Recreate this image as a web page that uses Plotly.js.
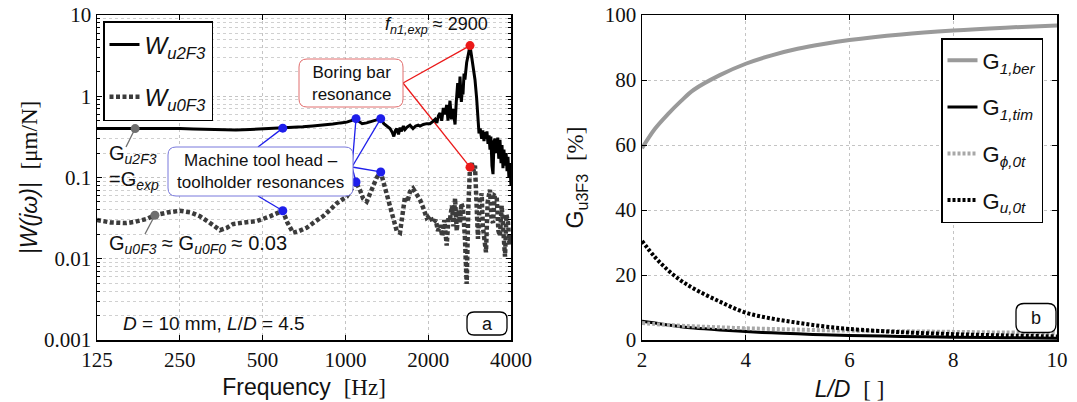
<!DOCTYPE html>
<html>
<head>
<meta charset="utf-8">
<script src="https://cdn.plot.ly/plotly-3.0.1.min.js"></script>
<style>html,body{margin:0;padding:0;background:#fff;}#chart{width:1077px;height:402px;}</style>
</head>
<body>
<div id="chart"></div>
<script>
// ---------------- DATA ----------------
// Panel a: receptances vs frequency
const freq_u2F3 = [125,140,160,172,190,215,250,280,320,360,400,450,500,550,592,640,700,760,830,900,960,1011,1050,1093,1120,1150,1195,1240,1290,1344,1380,1420,1453,1480,1500,1520,1537,1560,1580,1600,1625,1647,1680,1717,1761,1800,1840,1867,1920,1975,2030,2082,2120,2150,2180,2208,2240,2270,2300,2335,2360,2400,2430,2460,2504,2530,2560,2590,2610,2640,2660,2676,2700,2720,2760,2800,2838,2880,2920,2959,3000,3034,3060,3090,3129,3160,3190,3220,3244,3270,3300,3330,3354,3380,3410,3441,3470,3500,3549,3580,3610,3648,3680,3710,3740,3770,3805,3840,3870,3900,3930,3960,4000];
const W_u2F3 = [0.40,0.40,0.40,0.40,0.405,0.405,0.40,0.395,0.39,0.385,0.385,0.39,0.395,0.40,0.405,0.41,0.42,0.43,0.44,0.455,0.47,0.48,0.50,0.53,0.49,0.46,0.47,0.49,0.51,0.53,0.46,0.42,0.40,0.36,0.32,0.38,0.40,0.34,0.41,0.37,0.43,0.39,0.42,0.44,0.40,0.43,0.44,0.43,0.45,0.46,0.46,0.49,0.52,0.47,0.58,0.62,0.50,0.72,0.60,0.78,0.50,0.88,0.52,0.70,0.45,0.85,1.45,0.95,1.75,0.85,1.2,1.05,1.9,1.6,2.6,3.3,4.2,3.0,2.2,1.6,0.95,0.55,0.35,0.40,0.30,0.38,0.28,0.36,0.30,0.37,0.26,0.33,0.22,0.32,0.14,0.11,0.28,0.30,0.20,0.31,0.17,0.29,0.15,0.25,0.13,0.22,0.14,0.20,0.12,0.18,0.10,0.15,0.08];

const freq_u0F3 = [125,140,160,172,190,203,225,250,275,296,320,350,370,390,430,476,532,592,615,645,680,723,780,829,880,930,1011,1050,1093,1130,1160,1195,1250,1300,1344,1380,1420,1453,1490,1537,1579,1610,1647,1680,1717,1761,1800,1867,1920,1975,2030,2082,2130,2170,2208,2250,2290,2335,2370,2400,2440,2470,2504,2540,2580,2610,2640,2676,2720,2760,2800,2838,2880,2920,2959,3000,3034,3080,3129,3160,3190,3244,3290,3354,3400,3441,3490,3549,3600,3648,3700,3750,3805,3850,3900,3950,4000];
const W_u0F3 = [0.030,0.028,0.0275,0.0285,0.031,0.0343,0.037,0.039,0.037,0.0333,0.028,0.0225,0.024,0.0267,0.028,0.029,0.0333,0.039,0.028,0.0209,0.022,0.0241,0.029,0.0333,0.040,0.0482,0.058,0.070,0.088,0.070,0.055,0.0506,0.075,0.10,0.117,0.085,0.055,0.044,0.030,0.0219,0.0209,0.035,0.058,0.050,0.0668,0.0732,0.065,0.0535,0.042,0.0318,0.034,0.0277,0.030,0.022,0.026,0.019,0.030,0.0145,0.032,0.0306,0.045,0.025,0.0555,0.022,0.040,0.0277,0.048,0.042,0.018,0.0049,0.045,0.134,0.15,0.12,0.14,0.04,0.0176,0.05,0.0637,0.025,0.017,0.012,0.05,0.0706,0.03,0.0277,0.06,0.058,0.022,0.0191,0.045,0.025,0.0106,0.035,0.028,0.015,0.02];

// highlighted points (frequencies picked on the curves)
const staticFreqU2 = 172;             // G_u2F3 read-off point
const staticFreqU0 = 203;             // G_u0F3 read-off point
const headFreqs = [592, 1093, 1344];  // machine tool head – toolholder resonances
const barFreq = 2838;                 // boring bar resonance

const freqTicks = [125,250,500,1000,2000,4000];

// Panel b: contributions vs L/D
const LD     = [2,2.25,2.5,2.75,3,3.5,4,4.5,5,5.5,6,7,8,9,10];
const G1ber  = [59,65,69.5,73.5,77,81.5,85,87.6,89.6,91.1,92.3,94.0,95.2,96.1,96.8];
const G1tim  = [5.8,5.2,4.6,4.1,3.7,3.1,2.6,2.2,1.9,1.6,1.4,1.1,0.85,0.7,0.55];
const Gphi0t = [5.2,4.9,4.6,4.4,4.2,3.9,3.6,3.4,3.2,3.0,2.9,2.7,2.5,2.3,2.2];
const Gu0t   = [30.5,25.5,21.5,18.3,15.8,11.8,8.4,6.6,5.3,4.2,3.4,2.4,1.8,1.4,1.1];

// ---------------- helpers ----------------
const PL = {l:97, r:1057, t:15, b:340};
const PW = PL.r - PL.l;
const px2x = p => (p - PL.l) / PW;
const py2y = p => (PL.b - p) / (PL.b - PL.t);
const LX0 = Math.log10(125), LX1 = Math.log10(4000), LXW = 414;
const fAt = p => Math.pow(10, LX0 + (p - PL.l) / LXW * (LX1 - LX0));
const vAt = p => Math.pow(10, 1 - (p - PL.t) * 4 / (PL.b - PL.t));
const valAt = (fs, vs, f) => vs[fs.indexOf(f)];

const SANS = 'Liberation Sans';
const SERIF = 'Liberation Serif';
const BLUE = 'rgb(30,30,235)', RED = 'rgb(235,25,25)', GREY = 'rgb(110,110,110)';

function rbox(cx, cy, w, h, r, color, lw) {
  const a = w/2, b = h/2;
  const path = `M ${-a+r},${-b} L ${a-r},${-b} Q ${a},${-b} ${a},${-b+r} L ${a},${b-r} Q ${a},${b} ${a-r},${b} L ${-a+r},${b} Q ${-a},${b} ${-a},${b-r} L ${-a},${-b+r} Q ${-a},${-b} ${-a+r},${-b} Z`;
  return {type:'path', xref:'paper', yref:'paper', xsizemode:'pixel', ysizemode:'pixel',
          xanchor:px2x(cx), yanchor:py2y(cy), path, line:{color, width:lw}, fillcolor:'#fff', layer:'above'};
}
function leader(p0x, p0y, f, v, color) {
  return {type:'line', xref:'x', yref:'y', x0:fAt(p0x), y0:vAt(p0y), x1:f, y1:v,
          line:{color, width:1.3}, layer:'between'};
}
function txt(cx, cy, text, size, extra) {
  return Object.assign({xref:'paper', yref:'paper', x:px2x(cx), y:py2y(cy), text, showarrow:false,
          xanchor:'center', yanchor:'middle', font:{family:SANS, size, color:'#111'}}, extra || {});
}
const serifSpan = s => '<span style="font-family:Liberation Serif">' + s + '</span>';

// ---------------- traces ----------------
const headU2 = headFreqs.map(f => valAt(freq_u2F3, W_u2F3, f));
const headU0 = headFreqs.map(f => valAt(freq_u0F3, W_u0F3, f));
const barU2 = valAt(freq_u2F3, W_u2F3, barFreq);
const barU0 = valAt(freq_u0F3, W_u0F3, barFreq);
const statU2 = valAt(freq_u2F3, W_u2F3, staticFreqU2);
const statU0 = valAt(freq_u0F3, W_u0F3, staticFreqU0);

const traces = [
  {x:freq_u2F3, y:W_u2F3, mode:'lines', name:'<i>W</i><sub><i>u2F3</i></sub>', legend:'legend', legendgroup:'a1',
   line:{color:'#000', width:3}, xaxis:'x', yaxis:'y'},
  {x:freq_u0F3, y:W_u0F3, mode:'lines', name:'<i>W</i><sub><i>u0F3</i></sub>', legend:'legend', legendgroup:'a2',
   line:{color:'#3c3c3c', width:4.5, dash:'4px,2.5px'}, xaxis:'x', yaxis:'y'},
  {x:[staticFreqU2, staticFreqU0], y:[statU2, statU0], mode:'markers', showlegend:false,
   marker:{color:GREY, size:9}, xaxis:'x', yaxis:'y'},
  {x:headFreqs.concat(headFreqs), y:headU2.concat(headU0), mode:'markers', showlegend:false,
   marker:{color:BLUE, size:9}, xaxis:'x', yaxis:'y'},
  {x:[barFreq, barFreq], y:[barU2, barU0], mode:'markers', showlegend:false,
   marker:{color:RED, size:9}, xaxis:'x', yaxis:'y'},

  {x:LD, y:G1ber, mode:'lines', name:'G<sub><i>1,ber</i></sub>', legend:'legend2', legendgroup:'b1',
   line:{color:'#9a9a9a', width:4, shape:'spline'}, xaxis:'x2', yaxis:'y2'},
  {x:LD, y:G1tim, mode:'lines', name:'G<sub><i>1,tim</i></sub>', legend:'legend2', legendgroup:'b2',
   line:{color:'#000', width:3, shape:'spline'}, xaxis:'x2', yaxis:'y2'},
  {x:LD, y:Gphi0t, mode:'lines', name:'G<sub><i>ϕ,0t</i></sub>', legend:'legend2', legendgroup:'b3',
   line:{color:'#a8a8a8', width:4, dash:'3px,2px', shape:'spline'}, xaxis:'x2', yaxis:'y2'},
  {x:LD, y:Gu0t, mode:'lines', name:'G<sub><i>u,0t</i></sub>', legend:'legend2', legendgroup:'b4',
   line:{color:'#000', width:4, dash:'3px,2px', shape:'spline'}, xaxis:'x2', yaxis:'y2'}
];

// ---------------- layout ----------------
const gridCol = '#c4c4c4';
function axisBase() {
  return {showline:true, linecolor:'#000', linewidth:1.5, mirror:'ticks', ticks:'inside', ticklen:5,
    tickcolor:'#000', showgrid:true, gridcolor:gridCol, griddash:'dot', gridwidth:1, zeroline:false,
    tickfont:{family:SERIF, size:21, color:'#111'}};
}
const ldTicks = [2,4,6,8,10];
const pctTicks = [0,20,40,60,80,100];

const layout = {
  width:1077, height:402, paper_bgcolor:'#fff', plot_bgcolor:'#fff',
  font:{family:SANS, color:'#111'},
  margin:{l:PL.l, r:1077-PL.r, t:PL.t, b:402-PL.b},
  showlegend:true,
  xaxis: Object.assign(axisBase(), {type:'log', domain:[0, LXW/PW], range:[LX0, LX1], anchor:'y',
    tickmode:'array', tickvals:freqTicks, ticktext:freqTicks.map(v => serifSpan(String(v))),
    title:{text:'Frequency\u00A0\u00A0' + serifSpan('[Hz]'), font:{family:SANS, size:23, color:'#111'}, standoff:8}}),
  yaxis: Object.assign(axisBase(), {type:'log', range:[-3, 1], anchor:'x', tickmode:'linear', tick0:0, dtick:1,
    minor:{dtick:'D1', ticks:'inside', ticklen:3, tickcolor:'#000', showgrid:true, gridcolor:'#d0d0d0', griddash:'dot', gridwidth:1},
    title:{text:'<i>|W(jω)|</i>\u00A0\u00A0' + serifSpan('[μm/N]'), font:{family:SANS, size:23, color:'#111'}, standoff:0}}),
  xaxis2: Object.assign(axisBase(), {domain:[(642-PL.l)/PW, 1], range:[2, 10], anchor:'y2',
    tickmode:'array', tickvals:ldTicks, ticktext:ldTicks.map(v => serifSpan(String(v))),
    title:{text:'<i>L/D</i>\u00A0\u00A0' + serifSpan('[ ]'), font:{family:SANS, size:23, color:'#111'}, standoff:26}}),
  yaxis2: Object.assign(axisBase(), {range:[0, 100], anchor:'x2',
    tickmode:'array', tickvals:pctTicks, ticktext:pctTicks.map(v => serifSpan(String(v))),
    title:{text:'G<sub>u3F3</sub>\u00A0\u00A0' + serifSpan('[%]'), font:{family:SANS, size:23, color:'#111'}, standoff:14}}),
  legend: {x:px2x(103), y:py2y(21), xanchor:'left', yanchor:'top', bgcolor:'#fff', bordercolor:'#000', borderwidth:1.5,
    font:{family:SANS, size:24, color:'#111'}, tracegroupgap:18, traceorder:'grouped', itemwidth:30},
  legend2: {x:px2x(941), y:py2y(38), xanchor:'left', yanchor:'top', bgcolor:'#fff', bordercolor:'#000', borderwidth:1.5,
    font:{family:SANS, size:22, color:'#111'}, tracegroupgap:15, traceorder:'grouped', itemwidth:30},
  shapes: [
    leader(258, 147, headFreqs[0], headU2[0], BLUE),
    leader(258, 196, headFreqs[0], headU0[0], BLUE),
    leader(352, 167, headFreqs[1], headU2[1], BLUE),
    leader(352, 167, headFreqs[2], headU2[2], BLUE),
    leader(352, 167, headFreqs[1], headU0[1], BLUE),
    leader(352, 167, headFreqs[2], headU0[2], BLUE),
    leader(403, 83, barFreq, barU2, RED),
    leader(403, 83, barFreq, barU0, RED),
    leader(126, 147, staticFreqU2, statU2, GREY),
    leader(145, 234, staticFreqU0, statU0, GREY),
    rbox(351, 83, 104, 48, 8, 'rgb(225,110,110)', 1),
    rbox(260.5, 171.5, 185, 49, 8, 'rgb(120,120,220)', 1),
    rbox(487, 323.5, 40, 23, 7, '#000', 1.3),
    rbox(1036, 318, 40, 29, 8, '#000', 1.3)
  ],
  annotations: [
    txt(351, 83, 'Boring bar<br>resonance', 17),
    txt(260.5, 171.5, 'Machine tool head –<br>toolholder resonances', 17),
    txt(436, 25, '<i>f</i><sub><i>n1,exp</i></sub> ≈ 2900', 18),
    txt(107, 168, 'G<sub><i>u2F3</i></sub><br>=G<sub><i>exp</i></sub>', 20, {xanchor:'left', align:'left'}),
    txt(198, 244, 'G<sub><i>u0F3</i></sub> ≈ G<sub><i>u0F0</i></sub> ≈ 0.03', 20),
    txt(214, 323, '<i>D</i> = 10 mm, <i>L</i>/<i>D</i> = 4.5', 19),
    txt(487, 323.5, 'a', 18),
    txt(1036, 318, 'b', 18)
  ]
};

Plotly.newPlot('chart', traces, layout, {displayModeBar:false, staticPlot:true});
</script>
</body>
</html>
